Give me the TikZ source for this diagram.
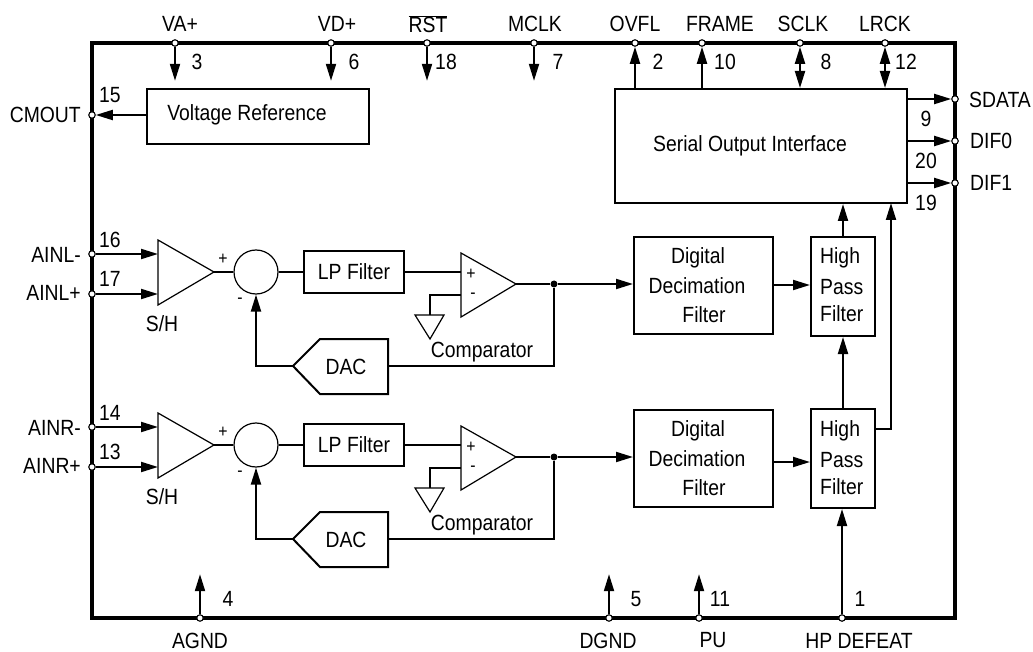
\documentclass[tikz,border=0pt]{standalone}
\usepackage{fontspec}
\setmainfont[FakeStretch=0.88]{Liberation Sans}
\usetikzlibrary{arrows.meta}
\tikzset{
  box/.style={draw,line width=2pt,inner sep=0pt,align=center},
  pin/.style={circle,draw,fill=white,line width=1.1pt,inner sep=0pt,minimum size=6.5pt},
  txt/.style={inner sep=0pt,align=center},
  wire/.style={line width=2pt},
  sig/.style={line width=2pt,-{Triangle[length=17pt,width=10pt]}},
  sigboth/.style={line width=2pt,{Triangle[length=17pt,width=10pt]}-{Triangle[length=17pt,width=10pt]}},
  thin shape/.style={draw,line width=1.2pt,line join=miter},
  dot/.style={circle,fill=black,inner sep=0pt,minimum size=7pt},
}
\begin{document}
\begin{tikzpicture}[x=1pt,y=-1pt,font=\fontsize{22}{26}\selectfont]
\useasboundingbox (0,0) rectangle (1033,652);
\draw[line width=3.6pt,line join=miter] (92,43) rectangle (955,618);

% pins
\foreach \n/\x in {VA/175,VD/331,RST/427,MCLK/534,OVFL/635,FRAME/702,SCLK/800,LRCK/885}
  \node[pin] (p\n) at (\x,43) {};
\foreach \n/\x in {AGND/200,DGND/609,PU/699,HPD/842}
  \node[pin] (p\n) at (\x,618) {};
\foreach \n/\y in {CMOUT/115,AINLm/254,AINLp/294,AINRm/427,AINRp/467}
  \node[pin] (p\n) at (92,\y) {};
\foreach \n/\y in {SDATA/99,DIFa/141,DIFb/183}
  \node[pin] (p\n) at (955,\y) {};

% top-level blocks
\node[box,minimum width=222pt,minimum height=55pt] (vref) at (258,116.5) {};
\node[txt] at (247,115) {Voltage Reference};
\node[box,minimum width=292pt,minimum height=114pt] (sif) at (761,146) {};
\node[txt] at (750,146) {Serial Output Interface};

% supply and control pins, top
\draw[sig] (pVA.south) -- ++(0,34);
\draw[sig] (pVD.south) -- ++(0,34);
\draw[sig] (pRST.south) -- ++(0,34);
\draw[sig] (pMCLK.south) -- ++(0,34);
\draw[sig] (pOVFL.south |- sif.north) -- (pOVFL.south);
\draw[sig] (pFRAME.south |- sif.north) -- (pFRAME.south);
\draw[sigboth] (pSCLK.south) -- (pSCLK.south |- sif.north);
\draw[sigboth] (pLRCK.south) -- (pLRCK.south |- sif.north);
\draw[sig] (vref.west |- pCMOUT) -- (pCMOUT.east);
\draw[sig] (sif.east |- pSDATA) -- (pSDATA.west);
\draw[sig] (sif.east |- pDIFa) -- (pDIFa.west);
\draw[sig] (sif.east |- pDIFb) -- (pDIFb.west);

% the two channels
\foreach \c/\d/\a/\b/\na/\nb/\la/\lb in {L/0/AINLm/AINLp/16/17/AINL-/AINL+,R/173/AINRm/AINRp/14/13/AINR-/AINR+}{
  \coordinate (sh1\c) at (158,240+\d);
  \coordinate (sh2\c) at (158,305+\d);
  \coordinate (sh3\c) at (214,272+\d);
  \draw[thin shape] (sh1\c) -- (sh3\c) -- (sh2\c) -- cycle;
  \node[circle,draw,line width=1.2pt,inner sep=0pt,minimum size=44pt] (sum\c) at (256,272+\d) {};
  \node[box,minimum width=100pt,minimum height=42pt] (lp\c) at (354,272+\d) {LP Filter};
  \coordinate (cmp1\c) at (461,253+\d);
  \coordinate (cmp2\c) at (461,317+\d);
  \coordinate (cmp3\c) at (516,284+\d);
  \coordinate (cmpp\c) at (461,272+\d);
  \coordinate (cmpm\c) at (461,295+\d);
  \draw[thin shape] (cmp1\c) -- (cmp3\c) -- (cmp2\c) -- cycle;
  \node[dot] (j\c) at (554,284+\d) {};
  \coordinate (gt\c) at (430,315+\d);
  \draw[thin shape] (415,315+\d) -- (444,315+\d) -- (430,339+\d) -- cycle;
  \coordinate (dt\c) at (293,366+\d);
  \coordinate (dr\c) at (388,366+\d);
  \draw[wire,line join=miter] (320,339+\d) -- (388,339+\d) -- (388,394+\d) -- (320,394+\d) -- (dt\c) -- cycle;
  \node[txt] at (346,367+\d) {DAC};
  \node[box,minimum width=139pt,minimum height=97pt] (dec\c) at (703.5,285.5+\d) {};
  \node[txt] at (698,258+\d) {Digital};
  \node[txt] at (697,286+\d) {Decimation};
  \node[txt] at (704,315+\d) {Filter};
  \node[txt] at (162,324+\d) {S/H};
  \node[txt,font=\fontsize{18}{20}\selectfont] at (223,259+\d) {+};
  \node[txt,font=\fontsize{18}{20}\selectfont] at (240,301+\d) {-};
  \node[txt,font=\fontsize{18}{20}\selectfont] at (471,274+\d) {+};
  \node[txt,font=\fontsize{18}{20}\selectfont] at (473,296+\d) {-};
  \node[txt] at (482,352+\d) {Comparator};
  \node[txt,anchor=east] at (81,255+\d) {\la};
  \node[txt,anchor=east] at (81,293+\d) {\lb};
  \node[txt] at (110,240+\d) {\na};
  \node[txt] at (110,279+\d) {\nb};
  \draw[sig] (p\a.east) -- (sh1\c |- p\a);
  \draw[sig] (p\b.east) -- (sh1\c |- p\b);
  \draw[wire] (sh3\c) -- (sum\c.west);
  \draw[wire] (sum\c.east) -- (lp\c.west);
  \draw[wire] (lp\c.east) -- (cmpp\c);
  \draw[wire] (cmpm\c) -| (gt\c);
  \draw[wire] (cmp3\c) -- (j\c);
  \draw[sig] (j\c) -- (dec\c.west |- j\c);
  \draw[wire] (j\c) |- (dr\c);
  \draw[sig] (dt\c) -| (sum\c.south);
}

% high pass filters
\node[box,minimum width=64pt,minimum height=99pt] (hpL) at (843,286.5) {};
\node[box,minimum width=64pt,minimum height=99pt] (hpR) at (843,458.5) {};
\foreach \c/\d in {L/0,R/173}{
  \node[txt,anchor=west] at (820,258+\d) {High};
  \node[txt,anchor=west] at (820,287+\d) {Pass};
  \node[txt,anchor=west] at (820,314+\d) {Filter};
}
\coordinate (decoutL) at (773,285);
\coordinate (decoutR) at (773,462);
\draw[sig] (decoutL) -- (hpL.west |- decoutL);
\draw[sig] (decoutR) -- (hpR.west |- decoutR);
\draw[sig] (hpL.north) -- (sif.south -| hpL.north);
\draw[sig] (hpR.north) -- (hpL.south);
\coordinate (hpRout) at (875,429);
\coordinate (sifin) at (891,203);
\draw[sig] (hpRout) -| (sifin);
\draw[sig] (pHPD.north) -- (pHPD.north |- hpR.south);

% bottom pins
\draw[sig] (pAGND.north) -- ++(0,-40);
\draw[sig] (pDGND.north) -- ++(0,-40);
\draw[sig] (pPU.north) -- ++(0,-40);

% pin labels
\node[txt] at (180,24) {VA+};
\node[txt] at (337,24) {VD+};
\node[txt] at (428,24) {$\overline{\mbox{RST}}$};
\node[txt] at (535,24) {MCLK};
\node[txt] at (635,24) {OVFL};
\node[txt] at (720,24) {FRAME};
\node[txt] at (803,24) {SCLK};
\node[txt] at (885,24) {LRCK};
\node[txt] at (197,62) {3};
\node[txt] at (354,62) {6};
\node[txt] at (446,62) {18};
\node[txt] at (558,62) {7};
\node[txt] at (658,62) {2};
\node[txt] at (725,62) {10};
\node[txt] at (826,62) {8};
\node[txt] at (906,62) {12};
\node[txt,anchor=east] at (81,115) {CMOUT};
\node[txt] at (110,95) {15};
\node[txt,anchor=west] at (969,100) {SDATA};
\node[txt,anchor=west] at (970,141) {DIF0};
\node[txt,anchor=west] at (970,183) {DIF1};
\node[txt] at (926,119) {9};
\node[txt] at (926,161) {20};
\node[txt] at (926,203) {19};
\node[txt] at (200,640.5) {AGND};
\node[txt] at (608,640.5) {DGND};
\node[txt] at (713,640.5) {PU};
\node[txt] at (859,640.5) {HP DEFEAT};
\node[txt] at (228,599) {4};
\node[txt] at (636,599) {5};
\node[txt] at (720,599) {11};
\node[txt] at (860,599) {1};
\end{tikzpicture}
\end{document}
